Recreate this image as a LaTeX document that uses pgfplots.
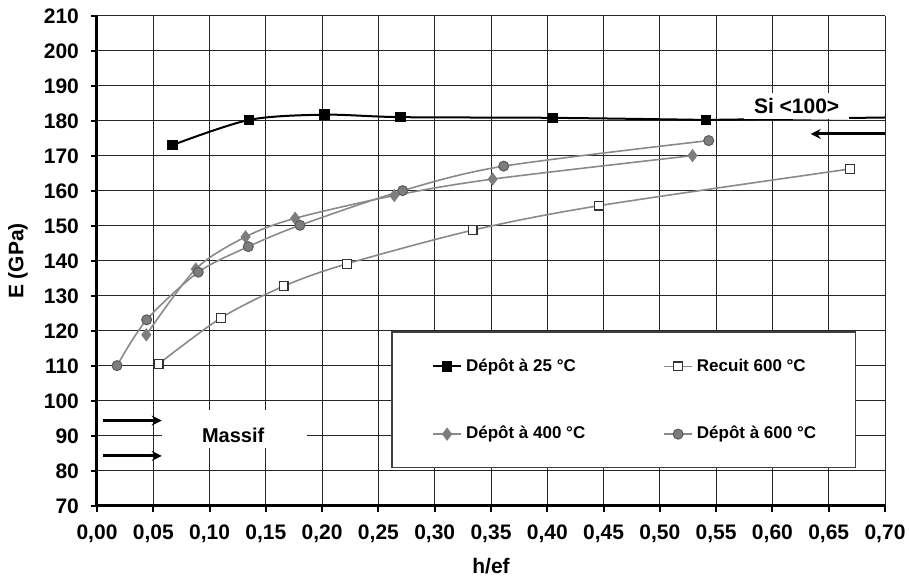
\documentclass[border=0pt]{standalone}
\usepackage{fontspec}
\setmainfont{Liberation Sans}
\usepackage{pgfplots}
\pgfplotsset{compat=1.18}
\usetikzlibrary{arrows.meta}
\definecolor{lgray}{RGB}{138,138,138}
\definecolor{mgray}{RGB}{125,125,125}
\definecolor{dgray}{RGB}{90,90,90}
\newcommand{\bigbf}{\fontsize{10.5}{12}\selectfont\bfseries}

\begin{document}
\begin{tikzpicture}[font=\bfseries]
\begin{axis}[
  scale only axis, width=394pt, height=245pt,
  xmin=0, xmax=0.7, ymin=70, ymax=210,
  xtick={0,0.05,0.1,0.15,0.2,0.25,0.3,0.35,0.4,0.45,0.5,0.55,0.6,0.65,0.7},
  ytick={70,80,90,100,110,120,130,140,150,160,170,180,190,200,210},
  axis x line*=bottom, axis y line*=left,
  axis line style={line width=1.5pt, black},
  grid=major, major grid style={black!85, line width=0.5pt},
  tick align=outside, major tick length=3pt,
  tick style={black, line width=1pt},
  xticklabel={\bigbf\pgfmathprintnumber[assume math mode=true,fixed,fixed zerofill,precision=2,use comma]{\tick}},
  yticklabel={\bigbf\pgfmathprintnumber[assume math mode=true,fixed,precision=0]{\tick}},
  xticklabel style={yshift=-2.75pt},
  yticklabel style={xshift=-2.5pt},
  xlabel={\bigbf h/ef}, ylabel={\bigbf E (GPa)},
  every axis x label/.style={at={(axis description cs:0.5,0)}, yshift=-30pt, anchor=center},
  every axis y label/.style={at={(axis description cs:0,0.5)}, xshift=-39.5pt, rotate=90, anchor=center},
  legend columns=2,
  legend style={at={(axis cs:0.292,100.2)}, anchor=west, draw=none, fill=none,
    font=\fontsize{8.5}{10}\selectfont\bfseries, row sep=22pt,
    /tikz/every even column/.append style={column sep=37pt}},
  legend cell align=left,
  legend image code/.code={\draw[mark repeat=2,mark phase=2] plot coordinates {(0pt,0pt) (7pt,0pt) (14pt,0pt)};},
]
% white boxes over the grid
\fill[white] (axis cs:0.0577,86.6) rectangle (axis cs:0.1864,97.4);
\filldraw[fill=white, draw=black!75, line width=0.6pt] (axis cs:0.262,119.7) rectangle (axis cs:0.674,80.9);

\addplot[black, line width=1pt, smooth, mark=square*, mark size=2.1pt, mark options={fill=black}]
  coordinates {(0.0669,173.1) (0.135,180.3) (0.202,181.8) (0.2695,181.1) (0.405,180.9) (0.541,180.3)};
\addlegendentry{Dépôt à 25 °C}
\addplot[lgray, line width=0.8pt, smooth, mark=square*, mark size=2.2pt, mark options={fill=white, draw=black!80, line width=0.6pt}]
  coordinates {(0.0548,110.6) (0.110,123.7) (0.1658,132.8) (0.2221,139.2) (0.3337,148.8) (0.446,155.8) (0.669,166.3)};
\addlegendentry{Recuit 600 °C}
\addplot[lgray, line width=0.8pt, smooth, mark=diamond*, mark size=2.7pt, mark options={fill=mgray, draw=mgray}]
  coordinates {(0.0438,118.9) (0.0877,137.7) (0.132,146.9) (0.176,152.2) (0.2641,158.7) (0.3515,163.4) (0.529,170.1)};
\addlegendentry{Dépôt à 400 °C}
\addplot[lgray, line width=0.8pt, smooth, mark=*, mark size=2.5pt, mark options={fill=mgray, draw=dgray, line width=0.5pt}]
  coordinates {(0.0178,110.1) (0.0441,123.2) (0.090,136.8) (0.1344,144.1) (0.1803,150.2) (0.2715,160.1) (0.3613,167.1) (0.5434,174.4)};
\addlegendentry{Dépôt à 600 °C}

% Si <100> reference
\addplot[black, line width=1pt, forget plot] coordinates {(0.541,180.3) (0.70,181.0)};
\node[fill=white, inner xsep=5pt, inner ysep=2.5pt, font=\bigbf] at (axis cs:0.6215,184.3) {Si <100>};
\addplot[black, line width=1.5pt, -{Stealth[length=5pt,width=5pt]}, forget plot] coordinates {(0.70,176.3) (0.634,176.3)};

% Massif arrows
\addplot[black, line width=1.5pt, -{Stealth[length=5pt,width=5pt]}, forget plot] coordinates {(0.0055,94.4) (0.0575,94.4)};
\addplot[black, line width=1.5pt, -{Stealth[length=5pt,width=5pt]}, forget plot] coordinates {(0.0055,84.3) (0.0575,84.3)};
\node[font=\fontsize{10}{12}\selectfont\bfseries] at (axis cs:0.121,90.3) {Massif};

\coordinate (pa) at (rel axis cs:0,0);
\coordinate (pb) at (rel axis cs:1,1);
\end{axis}
\pgfresetboundingbox
\path ([shift={(-48.5pt,-37.5pt)}]pa) rectangle ([shift={(12pt,8pt)}]pb);
\end{tikzpicture}
\end{document}
